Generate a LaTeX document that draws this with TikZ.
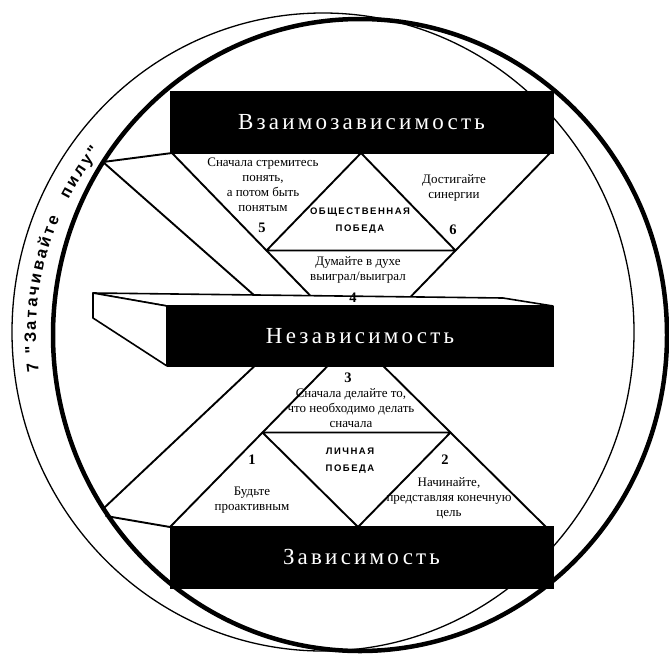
\documentclass[tikz,border=0pt]{standalone}
\usepackage{fontspec}
\setmainfont{Liberation Serif}
\newfontfamily\boxfnt[LetterSpace=14]{Liberation Serif}
\newfontfamily\capsfnt[LetterSpace=16]{Liberation Sans}
\newfontfamily\arcfnt{Liberation Sans}
\usetikzlibrary{decorations.text}
\tikzset{
  thinring/.style={line width=1.3pt},
  thickring/.style={line width=4.5pt},
  ln/.style={line width=1.9pt, line cap=round, line join=round},
  face/.style={fill=white, draw=black, line width=1.6pt, line join=round},
  blackbox/.style={fill=black, draw=black, line width=0.5pt, text=white, font=\boxfnt\fontsize{23}{24}\selectfont, inner sep=0pt},
  small/.style={font=\fontsize{13}{15}\selectfont, align=center, inner sep=0pt},
  caps/.style={font=\capsfnt\bfseries\fontsize{9.5}{17}\selectfont, align=center, inner sep=0pt},
  num/.style={font=\bfseries\fontsize{14.5}{14}\selectfont, inner sep=0pt},
}
\begin{document}
\begin{tikzpicture}[x=1pt,y=-1pt]
\useasboundingbox (0,0) rectangle (669,654);
\coordinate (thinc) at (323,332);
\coordinate (thickc) at (360,335);
\draw[thinring] (thinc) ellipse [x radius=311, y radius=319];
\draw[thickring] (thickc) ellipse [x radius=307, y radius=316];

% key points
\coordinate (L1) at (103,162);
\coordinate (L1e) at (272,311);
\coordinate (L2) at (104,508);
\coordinate (L2s) at (106,516);
\coordinate (L2e) at (262,359);
\coordinate (A) at (172,153);
\coordinate (B) at (550,153);
\coordinate (C) at (361,348);
\coordinate (M1) at (361,153);
\coordinate (M2) at (266.5,250.5);
\coordinate (M3) at (455.5,250.5);
\coordinate (D) at (170,527);
\coordinate (E) at (546,527);
\coordinate (F) at (355,338);
\coordinate (N1) at (358,527);
\coordinate (N2) at (262.5,432.5);
\coordinate (N3) at (450.5,432.5);

\draw[ln] (L1) -- (A);
\draw[ln] (L1) -- (L1e);
\draw[ln] (L2s) -- (D);
\draw[ln] (L2) -- (L2e);
\draw[ln] (A) -- (C) -- (B);
\draw[ln] (M2) -- (M3) -- (M1) -- cycle;
\draw[ln] (D) -- (F) -- (E);
\draw[ln] (N2) -- (N3) -- (N1) -- cycle;

% slab
\coordinate (S1) at (93,293);
\coordinate (S2) at (503,298);
\coordinate (S3) at (553,306);
\coordinate (S4) at (167,306);
\coordinate (S5) at (167,366);
\coordinate (S6) at (93,318);
\filldraw[face] (S1) -- (S2) -- (S3) -- (S4) -- cycle;
\filldraw[face] (S1) -- (S4) -- (S5) -- (S6) -- cycle;

% boxes
\node (topbox) [blackbox, minimum width=383pt, minimum height=62pt] at (361.5,122) {Взаимозависимость};
\node (midbox) [blackbox, minimum width=386pt, minimum height=60pt] at (360,336) {Независимость};
\node (botbox) [blackbox, minimum width=383pt, minimum height=62pt] at (361.5,557) {Зависимость};

% upper texts
\node (t5) [small] at (263,185) {Сначала стремитесь\\понять,\\а потом быть\\понятым};
\node (n5) [num] at (262,228) {5};
\node (tpub) [caps] at (360,221) {ОБЩЕСТВЕННАЯ\\ПОБЕДА};
\node (t6) [small] at (454,188) {Достигайте\\синергии};
\node (n6) [num] at (453,230) {6};
\node (t4) [small] at (358,270) {Думайте в духе\\выиграл/выиграл};
\node (n4) [num] at (353,298) {4};

% lower texts
\node (n3) [num] at (348,378) {3};
\node (t3) [small] at (351,408) {Сначала делайте то,\\что необходимо делать\\сначала};
\node (tpriv) [caps] at (350,461) {ЛИЧНАЯ\\ПОБЕДА};
\node (n1) [num] at (252,460) {1};
\node (t1) [small] at (252,500) {Будьте\\проактивным};
\node (n2) [num] at (445,460) {2};
\node (t2) [small] at (449,498) {Начинайте,\\представляя конечную\\цель};

% arc text
\path[decorate, decoration={text along path,
   text={|\arcfnt\bfseries\fontsize{16.5}{16}\selectfont|7 "Затачивайте{\hspace{8pt}} пилу"},
   text align=fit to path}]
   ([shift={(323,332)}]172:287) arc [start angle=172, end angle=219, radius=287];
\end{tikzpicture}
\end{document}
